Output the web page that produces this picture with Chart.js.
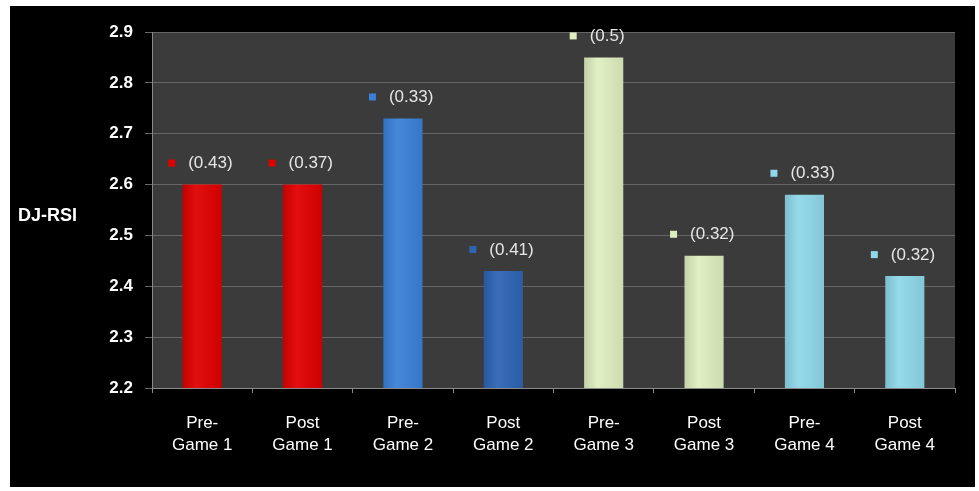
<!DOCTYPE html>
<html>
<head>
<meta charset="utf-8">
<script src="https://cdn.jsdelivr.net/npm/chart.js@4"></script>
<style>
  html, body { margin: 0; padding: 0; background: #fff; }
  #wrap { position: absolute; left: 10px; top: 6px; width: 965px; height: 481px; background: #000; }
</style>
</head>
<body>
<div id="wrap"><canvas id="rsiChart" width="965" height="481"></canvas></div>
<script>
// DJ-RSI por jogo (média e desvio padrão)
const categorias = [['Pre-', 'Game 1'], ['Post', 'Game 1'], ['Pre-', 'Game 2'], ['Post', 'Game 2'],
                    ['Pre-', 'Game 3'], ['Post', 'Game 3'], ['Pre-', 'Game 4'], ['Post', 'Game 4']];
const medias = [2.60, 2.60, 2.73, 2.43, 2.85, 2.46, 2.58, 2.42];
const desvios = ['0.43', '0.37', '0.33', '0.41', '0.5', '0.32', '0.33', '0.32'];
const cores = ['#e00000', '#e00000', '#3a80d8', '#2f64b4', '#dfeec0', '#dfeec0', '#8ed8ea', '#8ed8ea'];
const ticksY = [2.2, 2.3, 2.4, 2.5, 2.6, 2.7, 2.8, 2.9];

const fonte = '"Liberation Sans", Arial, sans-serif';
const larguraBarra = 0.39;

// leve sombreamento horizontal em cada coluna
function corBarra(context) {
    const i = context.dataIndex;
    const chart = context.chart;
    const x = chart.scales.x;
    if (!x || !chart.chartArea) return cores[i];
    const cx = x.getPixelForValue(i);
    const w = (x.width / categorias.length) * larguraBarra;
    const g = chart.ctx.createLinearGradient(cx - w / 2, 0, cx + w / 2, 0);
    g.addColorStop(0, shade(cores[i], -0.12));
    g.addColorStop(0.35, shade(cores[i], 0.06));
    g.addColorStop(1, shade(cores[i], -0.08));
    return g;
}

function shade(hex, f) {
    const n = parseInt(hex.slice(1), 16);
    const c = [n >> 16, (n >> 8) & 255, n & 255].map(v => {
        const r = f < 0 ? v * (1 + f) : v + (255 - v) * f;
        return Math.round(Math.max(0, Math.min(255, r)));
    });
    return 'rgb(' + c.join(',') + ')';
}

// fundo da área do gráfico + rótulo do eixo Y
const fundo = {
    id: 'fundo',
    beforeDraw(chart) {
        const { ctx, chartArea: a } = chart;
        ctx.save();
        ctx.fillStyle = '#3b3b3b';
        ctx.fillRect(a.left, a.top, a.right - a.left, a.bottom - a.top);
        ctx.fillStyle = '#ffffff';
        ctx.font = 'bold 18px ' + fonte;
        ctx.textBaseline = 'middle';
        ctx.fillText('DJ-RSI', 8, 210);
        ctx.restore();
    }
};

// rótulos "(dp)" com marcador colorido acima de cada barra
const rotulos = {
    id: 'rotulos',
    afterDatasetsDraw(chart) {
        const { ctx } = chart;
        const meta = chart.getDatasetMeta(0);
        ctx.save();
        ctx.font = '17px ' + fonte;
        ctx.textBaseline = 'middle';
        meta.data.forEach((bar, i) => {
            const y = bar.y - 21;
            ctx.fillStyle = cores[i];
            ctx.fillRect(bar.x - 34, y - 4, 7, 7);
            ctx.fillStyle = '#e6e6e6';
            ctx.fillText('(' + desvios[i] + ')', bar.x - 14, y);
        });
        ctx.restore();
    }
};

const ctx = document.getElementById('rsiChart').getContext('2d');
const rsiChart = new Chart(ctx, {
    type: 'bar',
    data: {
        labels: categorias,
        datasets: [{
            data: medias,
            backgroundColor: corBarra,
            borderWidth: 0,
            barPercentage: larguraBarra,
            categoryPercentage: 1
        }]
    },
    options: {
        responsive: false,
        animation: false,
        layout: { padding: { top: 26, right: 20 } },
        plugins: { legend: { display: false }, tooltip: { enabled: false } },
        scales: {
            x: {
                grid: { drawOnChartArea: false, color: '#8a8a8a', tickLength: 5 },
                border: { color: '#8a8a8a' },
                ticks: {
                    color: '#ffffff',
                    font: { family: fonte, size: 17, lineHeight: 1.3 },
                    padding: 19,
                    maxRotation: 0
                },
                afterFit(scale) { scale.height = 99; }
            },
            y: {
                min: 2.2,
                max: 2.9,
                afterBuildTicks(scale) { scale.ticks = ticksY.map(v => ({ value: v })); },
                grid: { color: '#666666', tickLength: 7 },
                border: { color: '#8a8a8a' },
                ticks: {
                    color: '#ffffff',
                    font: { family: fonte, size: 17, weight: 'bold' },
                    padding: 12,
                    callback: v => v.toFixed(1)
                },
                afterFit(scale) { scale.width = 142; }
            }
        }
    },
    plugins: [fundo, rotulos]
});
</script>
</body>
</html>
